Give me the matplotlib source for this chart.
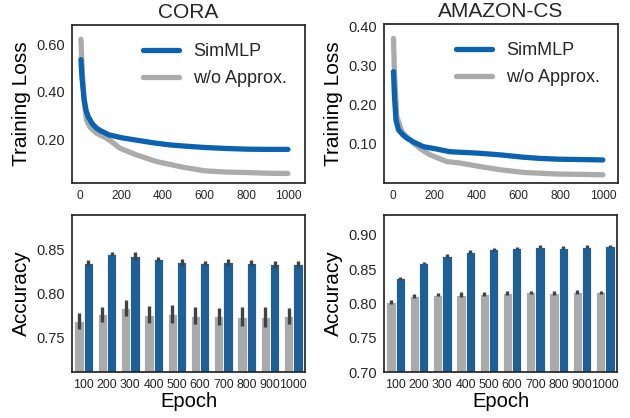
import matplotlib
matplotlib.use("Agg")
import matplotlib.pyplot as plt
import numpy as np

plt.rcParams["font.family"] = ["Liberation Sans", "DejaVu Sans"]
plt.rcParams["axes.edgecolor"] = "#262626"
plt.rcParams["axes.linewidth"] = 1.25
plt.rcParams["text.color"] = "#262626"
plt.rcParams["xtick.color"] = "#262626"
plt.rcParams["ytick.color"] = "#262626"

BLUE_LINE = "#0b62ae"
GRAY_LINE = "#ababab"
BLUE_BAR = "#1f5f97"
GRAY_BAR = "#aaaaaa"
ERR_COLOR = "#424242"

# --- training loss curves ---
cora_ep_sim = [5, 10, 20, 30, 40, 60, 80, 100, 140, 200, 270, 350, 430, 500, 600, 700, 800, 900, 1000]
cora_loss_sim = [0.535, 0.46, 0.37, 0.32, 0.295, 0.265, 0.247, 0.236, 0.219, 0.207, 0.197, 0.186,
                 0.177, 0.172, 0.166, 0.162, 0.159, 0.158, 0.158]
cora_ep_wo = [5, 10, 20, 32, 50, 80, 128, 160, 192, 272, 368, 497, 600, 700, 800, 900, 1000]
cora_loss_wo = [0.62, 0.51, 0.36, 0.28, 0.25, 0.226, 0.205, 0.185, 0.163, 0.135, 0.107, 0.083,
                0.068, 0.063, 0.061, 0.058, 0.057]

amz_ep_sim = [5, 10, 17, 29, 50, 68, 100, 147, 200, 274, 350, 417, 512, 623, 700, 781, 900, 1000]
amz_loss_sim = [0.285, 0.22, 0.161, 0.136, 0.123, 0.115, 0.105, 0.093, 0.088, 0.080, 0.078, 0.076,
                0.072, 0.066, 0.063, 0.061, 0.060, 0.059]
amz_ep_wo = [5, 10, 21, 45, 100, 140, 179, 258, 322, 417, 512, 623, 781, 900, 1000]
amz_loss_wo = [0.37, 0.28, 0.17, 0.131, 0.102, 0.085, 0.072, 0.055, 0.051, 0.042, 0.034, 0.027,
               0.023, 0.022, 0.021]

# --- accuracy bars ---
epochs = ["100", "200", "300", "400", "500", "600", "700", "800", "900", "1000"]
cora_acc_wo = [0.7687, 0.776, 0.7835, 0.7758, 0.7763, 0.7746, 0.7737, 0.7735, 0.7731, 0.7742]
cora_err_wo = [0.009, 0.0087, 0.0096, 0.0096, 0.010, 0.010, 0.010, 0.011, 0.011, 0.0096]
cora_acc_sim = [0.835, 0.8452, 0.8433, 0.8398, 0.8358, 0.835, 0.8356, 0.835, 0.8335, 0.834]
cora_err_sim = [0.0035, 0.002, 0.0048, 0.0025, 0.004, 0.0023, 0.0037, 0.003, 0.0038, 0.0033]

amz_acc_wo = [0.802, 0.8115, 0.813, 0.813, 0.8135, 0.815, 0.816, 0.8155, 0.8173, 0.8163]
amz_err_wo = [0.003, 0.003, 0.0025, 0.003, 0.0025, 0.003, 0.0025, 0.003, 0.003, 0.0025]
amz_acc_sim = [0.8365, 0.8591, 0.8697, 0.8755, 0.8788, 0.8808, 0.8827, 0.8813, 0.8827, 0.8837]
amz_err_sim = [0.002, 0.002, 0.002, 0.002, 0.0025, 0.002, 0.002, 0.002, 0.002, 0.002]

W, H = 630, 418
fig = plt.figure(figsize=(6.3, 4.18), dpi=100)


def _axes(x0, y0, x1, y1):
    return fig.add_axes([x0 / W, 1 - y1 / H, (x1 - x0) / W, (y1 - y0) / H])


def _loss_panel(ax, title, ep_s, loss_s, ep_w, loss_w, ylim, yticks, xlim):
    ax.plot(ep_w, loss_w, color=GRAY_LINE, lw=3.8, solid_capstyle="round")
    ax.plot(ep_s, loss_s, color=BLUE_LINE, lw=3.8, solid_capstyle="round")
    h_s = plt.Line2D([], [], color=BLUE_LINE, lw=3.8, solid_capstyle="round")
    h_w = plt.Line2D([], [], color=GRAY_LINE, lw=3.8, solid_capstyle="round")
    ax.legend([h_s, h_w], ["SimMLP", "w/o Approx."], loc="upper right", frameon=False,
              fontsize=13, handlelength=2.0, handletextpad=0.8, labelspacing=0.55,
              borderaxespad=0.6)
    ax.set_title(title, fontsize=15, pad=5)
    ax.set_ylabel("Training Loss", fontsize=15)
    ax.set_xlim(*xlim)
    ax.set_ylim(*ylim)
    ax.set_yticks(yticks)
    ax.set_yticklabels([f"{v:.2f}" for v in yticks], fontsize=10.5)
    ax.set_xticks([0, 200, 400, 600, 800, 1000])
    ax.tick_params(axis="x", labelsize=8.6)
    ax.tick_params(length=0, pad=5)


def _acc_panel(ax, acc_w, err_w, acc_s, err_s, ylim, yticks):
    x = np.arange(len(epochs))
    ax.bar(x - 0.2, acc_w, 0.4, color=GRAY_BAR, edgecolor="white", linewidth=0.6)
    ax.bar(x + 0.2, acc_s, 0.4, color=BLUE_BAR, edgecolor="white", linewidth=0.6)
    ax.errorbar(x - 0.2, acc_w, yerr=err_w, fmt="none", ecolor=ERR_COLOR, elinewidth=2.4)
    ax.errorbar(x + 0.2, acc_s, yerr=err_s, fmt="none", ecolor=ERR_COLOR, elinewidth=2.4)
    ax.set_xlim(-0.5, len(epochs) - 0.5)
    ax.set_ylim(*ylim)
    ax.set_yticks(yticks)
    ax.set_yticklabels([f"{v:.2f}" for v in yticks], fontsize=10.5)
    ax.set_xticks(x)
    ax.set_xticklabels(epochs, fontsize=8.9)
    ax.tick_params(length=0, pad=5)
    ax.set_xlabel("Epoch", fontsize=14.5, labelpad=1)
    ax.set_ylabel("Accuracy", fontsize=15)


ax1 = _axes(72, 25, 305, 183)
ax2 = _axes(384, 24, 618, 183)
ax3 = _axes(72, 215, 305, 372)
ax4 = _axes(384, 215, 617, 372)

_loss_panel(ax1, "CORA", cora_ep_sim, cora_loss_sim, cora_ep_wo, cora_loss_wo,
            (0.017, 0.68), [0.2, 0.4, 0.6], (-38, 1082))
_loss_panel(ax2, "AMAZON-CS", amz_ep_sim, amz_loss_sim, amz_ep_wo, amz_loss_wo,
            (0.0, 0.407), [0.1, 0.2, 0.3, 0.4], (-40, 1072))
_acc_panel(ax3, cora_acc_wo, cora_err_wo, cora_acc_sim, cora_err_sim, (0.71, 0.89), [0.75, 0.80, 0.85])
_acc_panel(ax4, amz_acc_wo, amz_err_wo, amz_acc_sim, amz_err_sim, (0.70, 0.929),
           [0.70, 0.75, 0.80, 0.85, 0.90])

fig.savefig("out.png", dpi=100, facecolor="white")
